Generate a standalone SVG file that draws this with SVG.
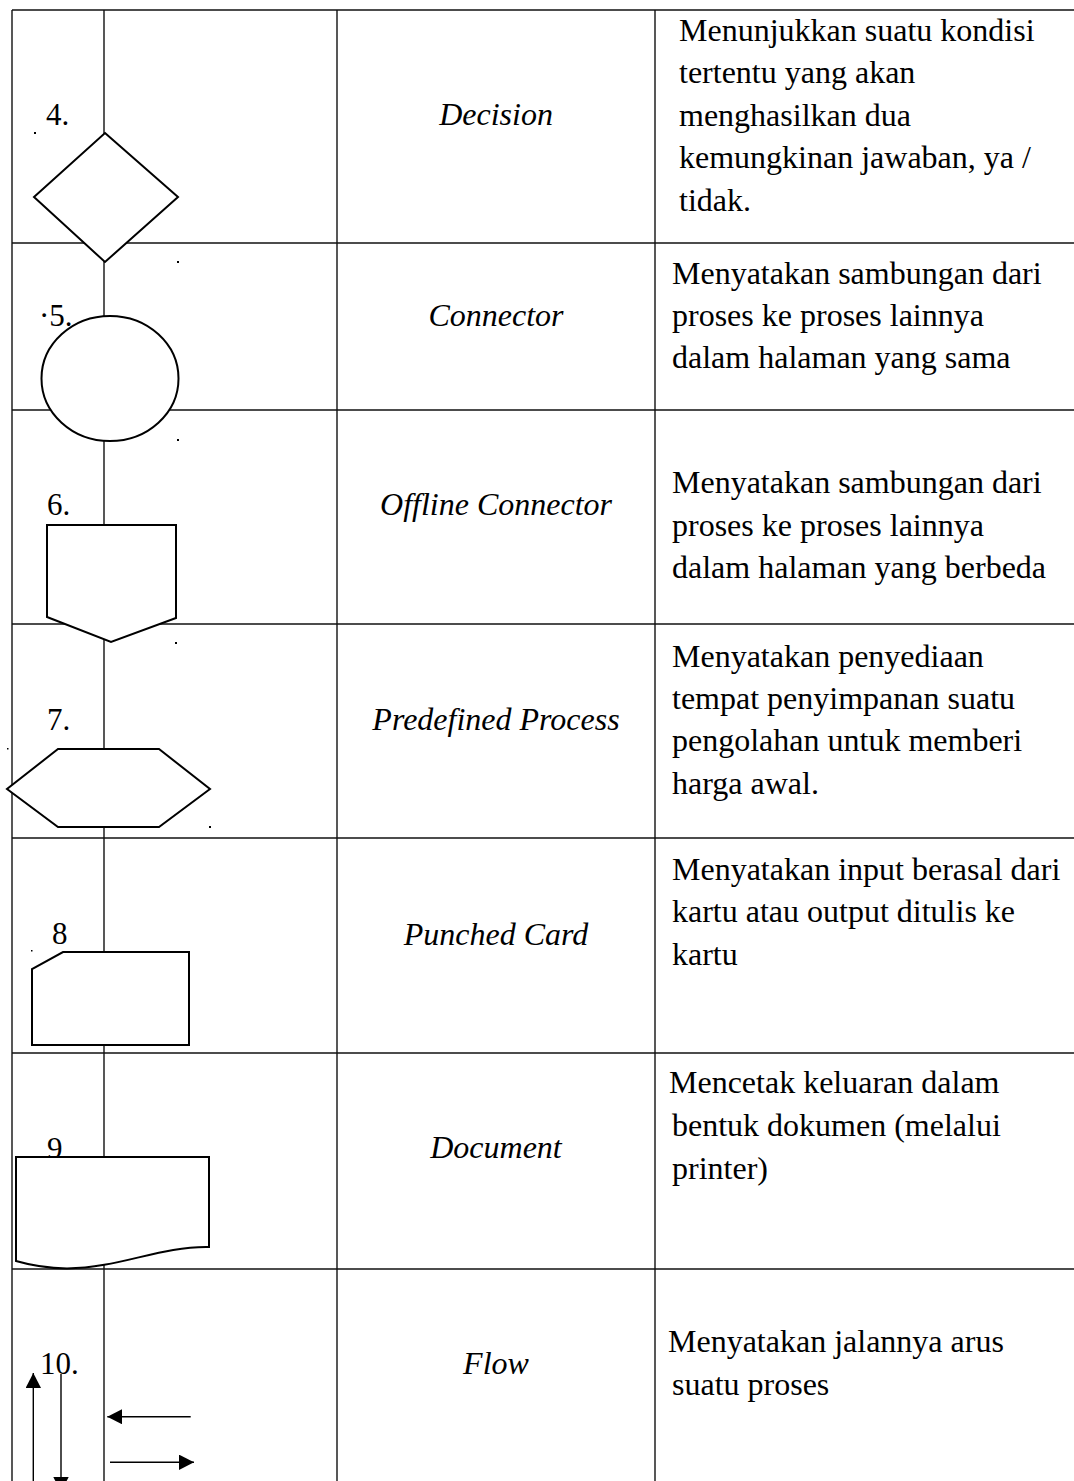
<svg xmlns="http://www.w3.org/2000/svg" width="1074" height="1481" viewBox="0 0 1074 1481">
  <style>
    .grid { stroke: #111; stroke-width: 1.4; fill: none; }
    .sym { fill: #fff; stroke: #000; stroke-width: 2; }
    .thin { stroke: #000; stroke-width: 1.4; fill: none; }
    .num { font-family: "Liberation Serif", "Times New Roman", serif; font-size: 31px; fill: #000; }
    .name { font-family: "Liberation Serif", "Times New Roman", serif; font-size: 32px; font-style: italic; fill: #000; text-anchor: middle; }
    .desc { font-family: "Liberation Serif", "Times New Roman", serif; font-size: 32px; fill: #000; }
    .dot { fill: #000; }
  </style>
  <defs>
    <marker id="head" markerUnits="userSpaceOnUse" markerWidth="16" markerHeight="16" refX="15" refY="7.7" orient="auto">
      <path d="M0,0 L15,7.7 L0,15.4 z" fill="#000"/>
    </marker>
  </defs>
  <rect width="1074" height="1481" fill="#fff"/>

  <!-- table rules -->
  <g id="grid" class="grid">
    <line x1="12" y1="10" x2="1074" y2="10"/>
    <line x1="12" y1="243" x2="1074" y2="243"/>
    <line x1="12" y1="410" x2="1074" y2="410"/>
    <line x1="12" y1="624" x2="1074" y2="624"/>
    <line x1="12" y1="838" x2="1074" y2="838"/>
    <line x1="12" y1="1053" x2="1074" y2="1053"/>
    <line x1="12" y1="1269" x2="1074" y2="1269"/>
    <line x1="12" y1="10" x2="12" y2="1481"/>
    <line x1="104" y1="10" x2="104" y2="1481"/>
    <line x1="337" y1="10" x2="337" y2="1481"/>
    <line x1="655" y1="10" x2="655" y2="1481"/>
  </g>

  <!-- 4. Decision -->
  <g id="row-decision">
    <text class="num" x="46" y="125">4.</text>
    <rect class="dot" x="34" y="132" width="2" height="2"/>
    <polygon class="sym" points="105,133 178,197 105,262 34,197"/>
    <text class="name" x="496" y="125">Decision</text>
    <text class="desc" x="679" y="41">Menunjukkan suatu kondisi</text>
    <text class="desc" x="679" y="83">tertentu yang akan</text>
    <text class="desc" x="679" y="126">menghasilkan dua</text>
    <text class="desc" x="679" y="168">kemungkinan jawaban, ya /</text>
    <text class="desc" x="679" y="211">tidak.</text>
  </g>

  <!-- 5. Connector -->
  <g id="row-connector">
    <rect class="dot" x="177" y="261" width="2" height="2"/>
    <text class="num" x="39" y="326">·5.</text>
    <ellipse class="sym" cx="110" cy="378.5" rx="68.5" ry="62.5"/>
    <text class="name" x="496" y="326">Connector</text>
    <text class="desc" x="672" y="284">Menyatakan sambungan dari</text>
    <text class="desc" x="672" y="326">proses ke proses lainnya</text>
    <text class="desc" x="672" y="368">dalam halaman yang sama</text>
  </g>

  <!-- 6. Offline Connector -->
  <g id="row-offline-connector">
    <rect class="dot" x="177" y="439" width="2" height="2"/>
    <text class="num" x="47" y="515">6.</text>
    <polygon class="sym" points="47,525 176,525 176,618 111,642 47,617"/>
    <text class="name" x="496" y="515">Offline Connector</text>
    <text class="desc" x="672" y="493">Menyatakan sambungan dari</text>
    <text class="desc" x="672" y="536">proses ke proses lainnya</text>
    <text class="desc" x="672" y="578">dalam halaman yang berbeda</text>
  </g>

  <!-- 7. Predefined Process -->
  <g id="row-predefined-process">
    <rect class="dot" x="175" y="642" width="2" height="2"/>
    <text class="num" x="47" y="730">7.</text>
    <rect class="dot" x="7" y="748" width="1.5" height="1.5"/>
    <polygon class="sym" stroke-width="1.6" points="58,749 159,749 210,789 159,827 58,827 7,789"/>
    <rect class="dot" x="209" y="826" width="2" height="2"/>
    <text class="name" x="496" y="730">Predefined Process</text>
    <text class="desc" x="672" y="667">Menyatakan penyediaan</text>
    <text class="desc" x="672" y="709">tempat penyimpanan suatu</text>
    <text class="desc" x="672" y="751">pengolahan untuk memberi</text>
    <text class="desc" x="672" y="794">harga awal.</text>
  </g>

  <!-- 8. Punched Card -->
  <g id="row-punched-card">
    <text class="num" x="52" y="944">8</text>
    <rect class="dot" x="31" y="950" width="1.5" height="1.5"/>
    <polygon class="sym" points="63,952 189,952 189,1045 32,1045 32,969"/>
    <text class="name" x="496" y="945">Punched Card</text>
    <text class="desc" x="672" y="880">Menyatakan input berasal dari</text>
    <text class="desc" x="672" y="922">kartu atau output ditulis ke</text>
    <text class="desc" x="672" y="965">kartu</text>
  </g>

  <!-- 9. Document: the number sits partly under the symbol -->
  <g id="row-document">
    <text class="num" x="47" y="1159">9</text>
    <path class="sym" d="M16,1157 H209 V1247 C160,1246 120,1268 67,1268.5 Q40,1268 16,1261 Z"/>
    <text class="name" x="496" y="1158">Document</text>
    <text class="desc" x="669" y="1093">Mencetak keluaran dalam</text>
    <text class="desc" x="672" y="1136">bentuk dokumen (melalui</text>
    <text class="desc" x="672" y="1179">printer)</text>
  </g>

  <!-- 10. Flow -->
  <g id="row-flow">
    <text class="num" x="40" y="1374">10.</text>
    <text class="name" x="496" y="1374">Flow</text>
    <text class="desc" x="668" y="1352">Menyatakan jalannya arus</text>
    <text class="desc" x="672" y="1395">suatu proses</text>
  </g>

  <!-- flow arrows -->
  <g id="connectors" class="thin">
    <line x1="33.3" y1="1481" x2="33.3" y2="1373" marker-end="url(#head)"/>
    <line x1="61" y1="1374" x2="61" y2="1492" marker-end="url(#head)"/>
    <line x1="190.7" y1="1416.7" x2="107.3" y2="1416.7" marker-end="url(#head)"/>
    <line x1="110" y1="1462.3" x2="194" y2="1462.3" marker-end="url(#head)"/>
  </g>
</svg>
